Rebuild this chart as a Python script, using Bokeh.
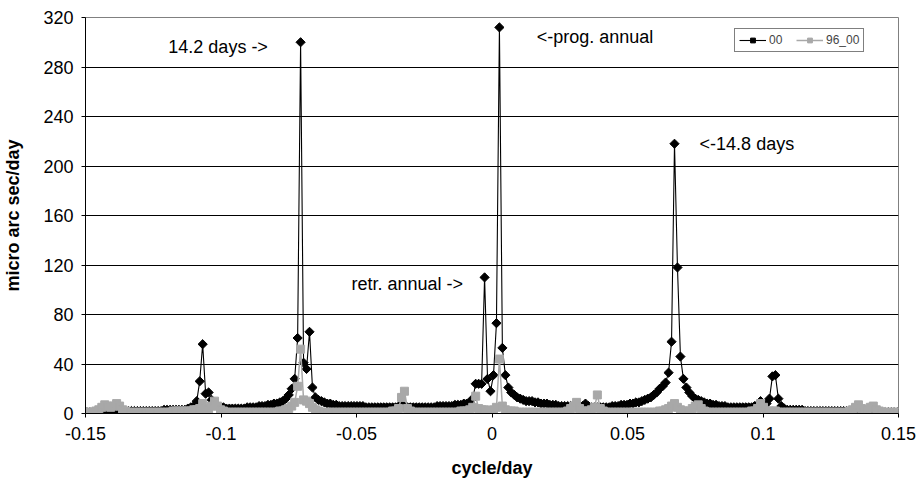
import math
from bokeh.plotting import figure
from bokeh.models import (Range1d, FixedTicker, NumeralTickFormatter, Legend,
                          LegendItem, Label)
from bokeh.embed import file_html
from bokeh.resources import INLINE

# frequency grid (cycle/day), evenly sampled
freq = [round((k + 0.5) * 0.001095, 6) for k in range(-137, 137)]

# series "00" (micro arc sec/day), k = -137 .. 136
s00 = [
    1, 1, 1, 1, 1, 1, 1, 1, 1, 1,          # -137..-128
    1, 1, 1, 1, 2, 2, 2, 2, 2, 2,          # -127..-118
    2, 2, 2, 2, 2, 2, 3, 3, 3, 3,          # -117..-108
    3, 3, 3, 3, 4, 5, 6, 10, 26, 56,       # -107..-98
    16, 17, 11, 8, 6, 5, 5, 4, 4, 4,       # -97..-88
    4, 4, 4, 4, 5, 5, 5, 5, 6, 6,          # -87..-78
    6, 7, 7, 8, 8, 9, 10, 12, 15, 20,      # -77..-68
    28, 61, 300, 41, 36, 66, 21, 13, 11, 10,  # -67..-58
    9, 8, 8, 7, 7, 6, 6, 6, 6, 6,          # -57..-48
    6, 6, 6, 6, 5, 5, 5, 5, 5, 5,          # -47..-38
    5, 5, 5, 5, 5, 5, 8, 5, 5, 5,          # -37..-28
    5, 5, 5, 5, 5, 5, 5, 5, 6, 6,          # -27..-18
    6, 6, 6, 6, 7, 7, 7, 8, 8, 9,          # -17..-8
    12, 24, 24, 24, 110, 28, 18, 31, 73, 312,  # -7..2
    53, 31, 21, 17, 15, 13, 12, 11, 10, 10,   # 3..12
    10, 9, 9, 8, 8, 8, 7, 7, 7, 6,         # 13..22
    6, 6, 6, 6, 6, 6, 6, 6, 8, 6,          # 23..32
    5, 5, 5, 5, 5, 5, 5, 6, 6, 6,          # 33..42
    7, 7, 7, 8, 8, 9, 9, 10, 11, 12,       # 43..52
    13, 15, 17, 20, 22, 25, 33, 58, 218, 118,  # 53..62
    46, 28, 21, 17, 14, 12, 11, 10, 9, 8,  # 63..72
    8, 7, 7, 6, 6, 6, 5, 5, 5, 5,          # 73..82
    5, 5, 5, 5, 5, 6, 7, 10, 7, 8,         # 83..92
    12, 30, 31, 12, 6, 4, 3, 3, 3, 3,      # 93..102
    3, 3, 2, 2, 2, 2, 2, 2, 2, 2,          # 103..112
    2, 2, 2, 2, 2, 2, 2, 2, 2, 2,          # 113..122
    2, 2, 2, 2, 1, 1, 1, 1, 1, 1,          # 123..132
    1, 1, 1, 1,                            # 133..136
]

# series "96_00"
s96_00 = [
    1, 1, 1, 2, 3, 5, 7, 6, 5, 6,          # -137..-128
    8, 6, 3, 2, 1, 1, 1, 1, 1, 1,          # -127..-118
    1, 1, 1, 1, 1, 1, 1, 1, 1, 2,          # -117..-108
    2, 2, 2, 2, 2, 2, 3, 3, 4, 8,          # -107..-98
    4, 3, 6, 10, 6, 3, 2, 1, 1, 1,         # -97..-88
    1, 1, 1, 1, 1, 1, 1, 1, 1, 1,          # -87..-78
    1, 1, 1, 1, 1, 2, 2, 3, 4, 6,          # -77..-68
    9, 22, 52, 11, 10, 8, 5, 3, 2, 1,      # -67..-58
    1, 1, 1, 1, 1, 1, 1, 1, 1, 1,          # -57..-48
    1, 1, 1, 1, 1, 1, 1, 1, 1, 1,          # -47..-38
    1, 1, 1, 2, 2, 4, 13, 18, 4, 2,        # -37..-28
    1, 1, 1, 1, 1, 1, 1, 1, 1, 1,          # -27..-18
    1, 1, 1, 1, 1, 1, 2, 2, 2, 3,          # -17..-8
    5, 14, 4, 3, 3, 2, 2, 3, 5, 44,        # -7..2
    6, 3, 2, 2, 2, 1, 1, 1, 1, 1,          # 3..12
    1, 1, 1, 1, 1, 1, 1, 1, 1, 1,          # 13..22
    1, 1, 2, 4, 6, 9, 4, 2, 2, 2,          # 23..32
    3, 5, 15, 4, 2, 1, 1, 1, 1, 1,         # 33..42
    1, 1, 1, 1, 1, 1, 1, 1, 1, 1,          # 43..52
    1, 1, 1, 2, 2, 3, 4, 6, 8, 5,          # 53..62
    3, 2, 2, 2, 4, 6, 7, 4, 2, 1,          # 63..72
    1, 1, 1, 1, 1, 1, 1, 1, 1, 1,          # 73..82
    1, 1, 1, 1, 2, 2, 4, 8, 5, 2,          # 83..92
    2, 2, 2, 1, 1, 1, 1, 1, 1, 1,          # 93..102
    1, 1, 1, 1, 1, 1, 1, 1, 1, 1,          # 103..112
    1, 1, 1, 1, 1, 1, 1, 2, 3, 5,          # 113..122
    7, 4, 2, 3, 5, 6, 3, 2, 1, 1,          # 123..132
    1, 1, 1, 1,                            # 133..136
]

x_ticks = [-0.15, -0.1, -0.05, 0, 0.05, 0.1, 0.15]
y_ticks = [0, 40, 80, 120, 160, 200, 240, 280, 320]

ann_text = ["14.2 days ->", "<-prog. annual", "<-14.8 days", "retr. annual ->"]
ann_x = [-0.0827, 0.0165, 0.0766, -0.0107]
ann_y = [296, 304, 218, 105]
ann_align = ["right", "left", "left", "right"]

FONT = "Liberation Sans"
GRAY = "#a8a8a8"

p = figure(width=920, height=489, output_backend="svg", toolbar_location=None,
           x_range=Range1d(-0.15, 0.15), y_range=Range1d(0, 320),
           min_border_left=84, min_border_right=22, min_border_top=17,
           min_border_bottom=76)
p.background_fill_color = "white"
p.border_fill_color = "white"
p.outline_line_color = "#808080"
p.outline_line_width = 1

l1 = p.line(freq, s00, line_color="black", line_width=1.1)
m1 = p.scatter(freq, s00, marker="square", angle=math.pi / 4, size=6.5,
               fill_color="black", line_color="black")
l2 = p.line(freq, s96_00, line_color=GRAY, line_width=1.5)
m2 = p.scatter(freq, s96_00, marker="square", size=8,
               fill_color=GRAY, line_color=GRAY)

p.xaxis.ticker = FixedTicker(ticks=x_ticks)
p.xaxis.formatter = NumeralTickFormatter(format="0.[00]")
p.yaxis.ticker = FixedTicker(ticks=y_ticks)
p.xgrid.visible = False
p.ygrid.grid_line_color = "black"
p.ygrid.grid_line_width = 1

for ax in (p.xaxis[0], p.yaxis[0]):
    ax.axis_line_color = "black"
    ax.major_tick_line_color = "black"
    ax.major_tick_in = 0
    ax.major_tick_out = 4
    ax.minor_tick_line_color = None
    ax.major_label_text_font = FONT
    ax.major_label_text_font_size = "18px"
    ax.major_label_text_color = "black"
    ax.axis_label_text_font = FONT
    ax.axis_label_text_font_size = "18px"
    ax.axis_label_text_font_style = "bold"
    ax.axis_label_text_color = "black"

p.xaxis.axis_label = "cycle/day"
p.yaxis.axis_label = "micro arc sec/day"
p.xaxis.major_label_standoff = 9
p.xaxis.axis_label_standoff = 15
p.yaxis.major_label_standoff = 8
p.yaxis.axis_label_standoff = 17

for t, x, y, a in zip(ann_text, ann_x, ann_y, ann_align):
    p.add_layout(Label(x=x, y=y, text=t, text_font=FONT, text_font_size="18px",
                       text_baseline="middle", text_align=a, text_color="black"))

legend = Legend(items=[LegendItem(label="00", renderers=[l1, m1]),
                       LegendItem(label="96_00", renderers=[l2, m2])],
                orientation="horizontal", location=(649, 361))
legend.border_line_color = "black"
legend.border_line_width = 1
legend.background_fill_color = "white"
legend.background_fill_alpha = 1
legend.label_text_font = FONT
legend.label_text_font_size = "12px"
legend.glyph_width = 27
legend.glyph_height = 12
legend.label_height = 12
legend.label_standoff = 3
legend.spacing = 7
legend.padding = 4
legend.margin = 0
p.add_layout(legend)

open("out.html", "w").write(file_html(p, INLINE))
